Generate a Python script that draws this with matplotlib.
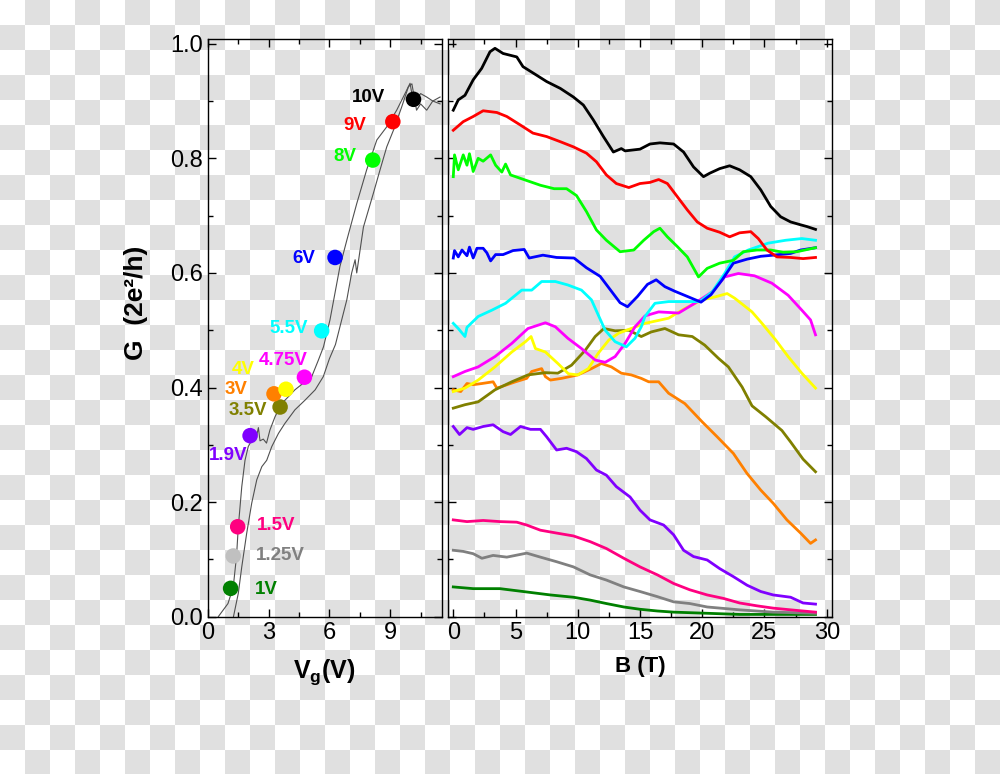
import numpy as np
import matplotlib
matplotlib.use("Agg")
import matplotlib.pyplot as plt

plt.rcParams['font.family'] = ['Liberation Sans', 'DejaVu Sans']
plt.rcParams['mathtext.fontset'] = 'custom'
plt.rcParams['mathtext.rm'] = 'Liberation Sans'
plt.rcParams['mathtext.bf'] = 'Liberation Sans:bold'

# ---- left panel: G vs gate voltage (two sweeps) ----
vg_up = [0.52, 1.0, 1.26, 1.42, 1.51, 1.68, 1.84, 2.0, 2.17, 2.42, 2.5, 2.58, 2.74, 2.9,
         3.07, 3.32, 3.65, 3.98, 4.3, 4.8, 5.13, 5.46, 5.71, 6.03, 6.52, 6.86, 7.35, 7.84,
         8.34, 8.83, 9.32, 9.73, 9.98, 10.15, 10.5, 10.8, 11.1, 11.46]
g_up = [0.0, 0.023, 0.052, 0.105, 0.157, 0.227, 0.273, 0.297, 0.308, 0.317, 0.330, 0.307,
        0.31, 0.303, 0.326, 0.349, 0.372, 0.384, 0.396, 0.410, 0.419, 0.448, 0.471, 0.518,
        0.611, 0.657, 0.721, 0.78, 0.832, 0.855, 0.884, 0.913, 0.931, 0.896, 0.913, 0.907,
        0.900, 0.907]
vg_down = [1.27, 1.51, 1.68, 1.92, 2.17, 2.42, 2.67, 2.91, 3.16, 3.49, 3.8, 4.3, 4.8, 5.3,
           5.7, 6.0, 6.3, 6.55, 6.86, 7.1, 7.27, 7.35, 7.68, 8.17, 8.5, 8.83, 9.16, 9.57,
           9.9, 10.07, 10.3, 10.5, 10.8, 11.1, 11.46]
g_down = [0.0, 0.041, 0.087, 0.145, 0.198, 0.239, 0.262, 0.273, 0.297, 0.32, 0.337, 0.361,
          0.378, 0.396, 0.419, 0.45, 0.475, 0.51, 0.553, 0.60, 0.623, 0.60, 0.68, 0.739,
          0.78, 0.82, 0.849, 0.89, 0.925, 0.93, 0.884, 0.895, 0.884, 0.90, 0.895]

labels = ['1V', '1.25V', '1.5V', '1.9V', '3.5V', '3V', '4V', '4.75V', '5.5V', '6V', '8V', '9V', '10V']
marker_v = [1.13, 1.26, 1.48, 2.09, 3.57, 3.27, 3.86, 4.77, 5.62, 6.28, 8.14, 9.13, 10.15]
marker_g = [0.0495, 0.106, 0.157, 0.316, 0.366, 0.389, 0.397, 0.418, 0.499, 0.627, 0.797, 0.864, 0.903]
marker_colors = ['#008000', '#c0c0c0', '#ff0080', '#8000ff', '#808000', '#ff8000', '#ffff00',
                 '#ff00ff', '#00ffff', '#0000ff', '#00ff00', '#ff0000', '#000000']
text_colors = ['#008000', '#808080', '#ff0080', '#8000ff', '#808000', '#ff8000', '#ffff00',
               '#ff00ff', '#00ffff', '#0000ff', '#00ff00', '#ff0000', '#000000']
label_v = [2.91, 3.57, 3.35, 1.0, 2.0, 1.38, 1.76, 3.73, 3.98, 4.72, 6.77, 7.27, 7.92]
label_g = [0.048, 0.106, 0.16, 0.282, 0.36, 0.396, 0.432, 0.448, 0.503, 0.625, 0.804, 0.858, 0.907]

# ---- right panel: G vs magnetic field ----
b_10v = [0, 0.4, 0.94, 1.6, 2.28, 2.95, 3.35, 4.0, 5.1, 5.6, 6.7, 7.5, 8.6, 9.65, 10.45, 11.25,
         12.06, 12.86, 13.5, 13.8, 15.0, 15.8, 16.6, 17.7, 18.5, 19.3, 20.1, 20.6, 21.4, 22.2,
         23.0, 23.9, 24.7, 25.5, 26.3, 27.1, 27.9, 28.4, 29.1]
g_10v = [0.884, 0.902, 0.910, 0.937, 0.957, 0.986, 0.992, 0.983, 0.977, 0.960, 0.945, 0.934,
         0.922, 0.907, 0.893, 0.867, 0.838, 0.811, 0.817, 0.813, 0.816, 0.825, 0.827, 0.825,
         0.811, 0.785, 0.768, 0.774, 0.782, 0.787, 0.780, 0.768, 0.745, 0.716, 0.698, 0.689,
         0.684, 0.681, 0.676]
b_9v = [0, 0.8, 1.6, 2.4, 3.5, 4.3, 5.4, 6.4, 7.5, 8.6, 9.65, 10.7, 11.5, 12.3, 13.1, 14.1, 15.0,
        15.8, 16.5, 17.2, 18.0, 18.8, 19.6, 20.4, 21.4, 22.2, 23.0, 23.9, 24.5, 25.2, 26.0,
        27.1, 28.1, 29.1]
g_9v = [0.849, 0.864, 0.873, 0.883, 0.880, 0.873, 0.858, 0.844, 0.838, 0.829, 0.820, 0.809,
        0.794, 0.771, 0.756, 0.749, 0.756, 0.758, 0.763, 0.756, 0.733, 0.710, 0.689, 0.678,
        0.671, 0.663, 0.670, 0.672, 0.660, 0.640, 0.628, 0.627, 0.625, 0.627]
b_8v = [0, 0.1, 0.4, 0.8, 1.1, 1.3, 1.6, 2.0, 2.4, 3.0, 3.4, 3.9, 4.2, 4.6, 5.4, 6.2, 7.0, 8.1,
        9.1, 9.9, 10.7, 11.5, 12.3, 13.4, 14.5, 15.3, 16.1, 16.6, 17.2, 18.0, 18.8, 19.7, 20.4,
        21.4, 22.5, 23.3, 24.4, 25.5, 26.5, 27.6, 29.1]
g_8v = [0.768, 0.806, 0.780, 0.806, 0.788, 0.808, 0.777, 0.800, 0.795, 0.806, 0.788, 0.776,
        0.790, 0.771, 0.765, 0.759, 0.753, 0.747, 0.747, 0.735, 0.707, 0.675, 0.657, 0.637,
        0.640, 0.657, 0.672, 0.678, 0.663, 0.646, 0.628, 0.593, 0.608, 0.617, 0.622, 0.637,
        0.640, 0.640, 0.636, 0.637, 0.644]
b_6v = [0, 0.1, 0.4, 0.7, 1.1, 1.3, 1.6, 1.9, 2.4, 2.7, 3.0, 3.4, 4.0, 4.8, 5.7, 6.1, 7.2, 8.3,
        9.7, 10.7, 11.8, 12.6, 13.4, 14.0, 14.8, 15.6, 16.3, 17.0, 17.8, 18.8, 19.9, 20.7, 21.6,
        22.5, 23.6, 24.7, 25.7, 27.1, 27.9, 29.1]
g_6v = [0.626, 0.639, 0.628, 0.640, 0.630, 0.645, 0.626, 0.643, 0.643, 0.635, 0.621, 0.632,
        0.632, 0.639, 0.641, 0.626, 0.631, 0.627, 0.626, 0.609, 0.594, 0.571, 0.548, 0.541,
        0.559, 0.580, 0.588, 0.576, 0.568, 0.559, 0.549, 0.562, 0.588, 0.617, 0.624, 0.629,
        0.631, 0.634, 0.640, 0.644]
b_55v = [0, 0.4, 0.94, 1.1, 2.0, 3.1, 4.2, 5.5, 6.3, 7.1, 8.2, 9.2, 10.3, 11.1, 11.7, 12.2, 13.0,
         13.9, 14.6, 15.1, 15.4, 16.2, 17.3, 18.6, 19.8, 20.8, 21.8, 22.6, 23.7, 25.3, 26.7,
         28.0, 29.1]
g_55v = [0.512, 0.503, 0.489, 0.505, 0.524, 0.535, 0.547, 0.570, 0.570, 0.585, 0.585, 0.579,
         0.570, 0.553, 0.524, 0.500, 0.480, 0.471, 0.486, 0.506, 0.524, 0.547, 0.550, 0.550,
         0.550, 0.567, 0.599, 0.628, 0.640, 0.652, 0.657, 0.660, 0.657]
b_475v = [0, 0.94, 2.0, 3.35, 4.7, 6.0, 7.4, 8.2, 9.2, 10.3, 11.4, 12.2, 13.0, 13.8, 14.6, 15.4,
          16.5, 18.1, 19.4, 20.8, 21.8, 22.9, 24.2, 25.6, 26.9, 28.0, 28.7, 29.1]
g_475v = [0.419, 0.428, 0.436, 0.454, 0.477, 0.503, 0.513, 0.506, 0.486, 0.468, 0.448, 0.444,
          0.454, 0.477, 0.506, 0.525, 0.532, 0.530, 0.547, 0.567, 0.593, 0.599, 0.595, 0.582,
          0.561, 0.535, 0.518, 0.492]
b_4v = [0, 0.94, 2.0, 3.35, 4.7, 5.8, 6.25, 6.6, 7.4, 8.4, 9.25, 10.0, 10.85, 11.65, 12.5, 13.3,
        14.3, 15.4, 17.3, 18.6, 20.0, 21.0, 22.0, 22.6, 24.0, 24.8, 25.9, 26.9, 28.0, 29.1]
g_4v = [0.393, 0.399, 0.413, 0.436, 0.462, 0.480, 0.489, 0.468, 0.462, 0.442, 0.424, 0.422,
        0.433, 0.460, 0.483, 0.495, 0.503, 0.512, 0.521, 0.538, 0.553, 0.558, 0.564, 0.556,
        0.532, 0.512, 0.483, 0.454, 0.425, 0.399]
b_35v = [0, 0.94, 2.0, 3.35, 4.7, 6.0, 7.4, 8.4, 9.5, 10.6, 11.4, 12.1, 13.0, 14.1, 15.1, 15.9,
         17.0, 18.1, 19.2, 20.2, 21.3, 22.1, 23.2, 24.0, 25.1, 26.4, 27.1, 28.1, 29.1]
g_35v = [0.364, 0.370, 0.375, 0.396, 0.410, 0.422, 0.426, 0.425, 0.439, 0.465, 0.489, 0.503,
         0.499, 0.500, 0.489, 0.497, 0.503, 0.492, 0.489, 0.474, 0.451, 0.436, 0.401, 0.368,
         0.349, 0.325, 0.305, 0.275, 0.253]
b_3v = [0, 0.6, 1.1, 1.6, 2.3, 3.2, 3.5, 4.2, 5.0, 5.9, 6.3, 7.1, 7.4, 7.8, 8.7, 10.0, 11.1, 11.9,
        12.7, 13.5, 14.3, 15.1, 15.7, 16.5, 17.3, 18.6, 20.0, 21.2, 22.5, 23.6, 24.7, 25.7, 26.8,
        27.9, 28.7, 29.1]
g_3v = [0.396, 0.393, 0.407, 0.405, 0.407, 0.410, 0.399, 0.404, 0.410, 0.416, 0.428, 0.433,
        0.419, 0.413, 0.416, 0.422, 0.433, 0.442, 0.436, 0.425, 0.422, 0.416, 0.410, 0.410,
        0.390, 0.372, 0.340, 0.314, 0.285, 0.250, 0.221, 0.198, 0.169, 0.146, 0.128, 0.134]
b_19v = [0, 0.5, 1.1, 1.6, 2.4, 3.2, 4.0, 4.6, 5.4, 6.2, 7.0, 7.5, 8.3, 9.1, 9.9, 10.7, 11.5, 12.3,
         13.1, 14.2, 15.0, 15.8, 16.9, 17.7, 18.5, 19.3, 20.4, 21.4, 22.5, 23.6, 24.7, 25.7,
         27.1, 28.1, 29.1]
g_19v = [0.332, 0.318, 0.330, 0.327, 0.332, 0.335, 0.323, 0.318, 0.332, 0.327, 0.327, 0.314,
         0.291, 0.294, 0.288, 0.276, 0.256, 0.247, 0.227, 0.209, 0.186, 0.169, 0.160, 0.143,
         0.116, 0.105, 0.099, 0.084, 0.070, 0.055, 0.044, 0.038, 0.034, 0.024, 0.022]
b_15v = [0, 1.1, 2.4, 3.75, 5.1, 5.9, 7.0, 8.3, 9.65, 11.0, 12.3, 13.7, 15.0, 16.4, 17.7, 19.0,
         20.4, 21.7, 23.0, 24.4, 25.7, 27.1, 29.1]
g_15v = [0.169, 0.166, 0.168, 0.166, 0.165, 0.160, 0.151, 0.146, 0.141, 0.131, 0.119, 0.102,
         0.087, 0.073, 0.058, 0.047, 0.038, 0.032, 0.024, 0.019, 0.015, 0.012, 0.008]
b_125v = [0, 0.8, 1.6, 2.3, 3.2, 4.3, 5.9, 7.0, 8.3, 9.65, 11.0, 12.3, 13.7, 15.0, 16.4, 17.7,
          19.0, 20.4, 23.0, 25.7, 29.1]
g_125v = [0.116, 0.114, 0.110, 0.102, 0.107, 0.104, 0.111, 0.104, 0.096, 0.087, 0.073, 0.064,
          0.052, 0.044, 0.035, 0.026, 0.023, 0.017, 0.012, 0.008, 0.006]
b_1v = [0, 1.6, 3.75, 5.6, 7.8, 9.65, 11.0, 12.3, 13.7, 15.0, 16.4, 17.7, 20.4, 23.0, 29.1]
g_1v = [0.052, 0.049, 0.049, 0.044, 0.038, 0.034, 0.029, 0.023, 0.017, 0.013, 0.010, 0.008,
        0.006, 0.004, 0.004]

sweeps = [(b_1v, g_1v, '#008000'), (b_125v, g_125v, '#808080'), (b_15v, g_15v, '#ff0080'),
          (b_19v, g_19v, '#8000ff'), (b_3v, g_3v, '#ff8000'), (b_35v, g_35v, '#808000'),
          (b_4v, g_4v, '#ffff00'), (b_475v, g_475v, '#ff00ff'), (b_55v, g_55v, '#00ffff'),
          (b_6v, g_6v, '#0000ff'), (b_8v, g_8v, '#00ff00'), (b_9v, g_9v, '#ff0000'),
          (b_10v, g_10v, '#000000')]

fig = plt.figure(figsize=(10, 7.74), dpi=100)

# transparency checkerboard seen behind the original picture
rows, cols = np.mgrid[0:774, 0:1000]
checker = np.where(((rows // 25) + (cols // 25)) % 2 == 1, 224, 255).astype(np.uint8)
fig.figimage(np.dstack([checker] * 3), xo=0, yo=0, origin='upper', zorder=-10)

ax1 = fig.add_axes([0.2077, 0.2032, 0.234, 0.746])
ax2 = fig.add_axes([0.4483, 0.2032, 0.3834, 0.746], sharey=ax1)

for ax in (ax1, ax2):
    ax.set_facecolor('none')
    ax.tick_params(which='both', direction='in', top=True, right=True, labelsize=17, width=1)
    ax.tick_params(which='major', length=6)
    ax.tick_params(which='minor', length=3.5)
    for s in ax.spines.values():
        s.set_linewidth(1.0)

ax1.plot(vg_up, g_up, color='#505050', lw=0.8, zorder=2)
ax1.plot(vg_down, g_down, color='#505050', lw=0.8, zorder=2)
ax1.scatter(marker_v, marker_g, s=125, c=marker_colors, zorder=3, linewidths=0)
for t, x, y, c in zip(labels, label_v, label_g, text_colors):
    ax1.text(x, y, t, color=c, fontsize=13.5, fontweight='bold', ha='center', va='center')

ax1.set_xlim(0, 11.54)
ax1.set_ylim(0, 1.0077)
ax1.set_xticks([0, 3, 6, 9])
ax1.set_xticks(np.arange(1.5, 11.5, 3), minor=True)
ax1.set_yticks([0.0, 0.2, 0.4, 0.6, 0.8, 1.0])
ax1.set_yticklabels(['0.0', '0.2', '0.4', '0.6', '0.8', '1.0'])
ax1.set_yticks(np.arange(0.1, 1.0, 0.2), minor=True)
ax1.set_xlabel(r'$\mathbf{V_g}$(V)', fontsize=18, fontweight='bold', labelpad=10)
ax1.set_ylabel('G  (2e²/h)', fontsize=19, fontweight='bold')
ax1.yaxis.set_label_coords(-0.255, 0.543)

for b, g, c in sweeps:
    ax2.plot(b, g, color=c, lw=2.0, zorder=2)
ax2.set_xlim(-0.4, 30.4)
ax2.set_xticks([0, 5, 10, 15, 20, 25, 30])
ax2.set_xticks(np.arange(2.5, 30, 5), minor=True)
ax2.tick_params(axis='y', which='both', labelleft=False)
ax2.set_xlabel('B (T)', fontsize=16, fontweight='bold', labelpad=9)

fig.savefig('out.png', dpi=100)
